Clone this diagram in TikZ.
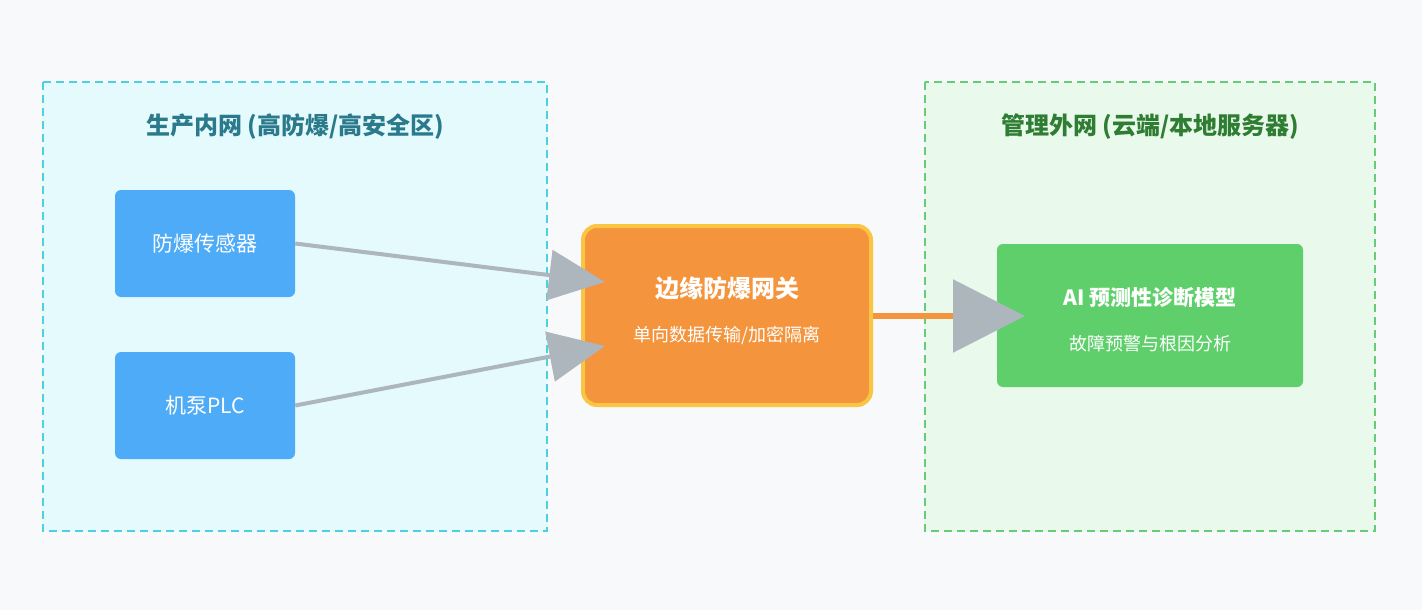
\documentclass[tikz,border=0pt]{standalone}
\usepackage{fontspec}
\setmainfont{Noto Sans CJK SC}
\usepackage{xcolor}
\usetikzlibrary{arrows.meta,positioning}
\definecolor{pageBg}{HTML}{F8F9FB}
\definecolor{innerFill}{HTML}{E4FAFD}
\definecolor{innerLine}{HTML}{4DD0E1}
\definecolor{innerText}{HTML}{2A7A8C}
\definecolor{outerFill}{HTML}{E9FAEC}
\definecolor{outerLine}{HTML}{66CC77}
\definecolor{outerText}{HTML}{2E7D32}
\definecolor{device}{HTML}{4DABF7}
\definecolor{gateway}{HTML}{F4943C}
\definecolor{gatewayRim}{HTML}{F9C543}
\definecolor{model}{HTML}{5FCF6B}
\definecolor{link}{HTML}{ADB5BD}

\begin{document}
\begin{tikzpicture}[
  x=1pt,y=-1pt,
  zone/.style={draw=#1,dashed,dash pattern=on 8pt off 5pt,line width=2.5pt},
  zone title/.style={font=\fontsize{24}{28}\selectfont\bfseries,text=#1},
  device box/.style={fill=device,rounded corners=6pt,minimum width=180pt,minimum height=107pt,
    text=white,font=\fontsize{21}{25}\selectfont},
  flow/.style={line width=4pt,draw=link,-{Triangle[length=56pt,width=50pt,color=link]}}
]
\fill[pageBg] (0,0) rectangle (1422,610);
\useasboundingbox (0,0) rectangle (1422,610);
% zones
\draw[zone=innerLine,fill=innerFill] (43,82) rectangle (547,531);
\draw[zone=outerLine,fill=outerFill] (925,82) rectangle (1375,531);
\node[zone title=innerText] (innerT) at (295,127) {生产内网 (高防爆/高安全区)};
\node[zone title=outerText] (outerT) at (1150,127) {管理外网 (云端/本地服务器)};
% devices
\node[device box] (sensor) at (205,243.5) {防爆传感器};
\node[device box] (plc) at (205,405.5) {机泵PLC};
% gateway
\node[fill=gateway,draw=gatewayRim,line width=4pt,rounded corners=14pt,
  minimum width=288pt,minimum height=179pt] (gw) at (727,315.5) {};
\node[text=white,font=\fontsize{24}{28}\selectfont\bfseries] (gwT) at (727,288) {边缘防爆网关};
\node[text=white,font=\fontsize{18}{22}\selectfont] (gwS) at (727,335) {单向数据传输/加密隔离};
% model
\node[fill=model,rounded corners=6pt,minimum width=306pt,minimum height=143pt] (ai) at (1150,315.5) {};
\node[text=white,font=\fontsize{21}{25}\selectfont\bfseries] (aiT) at (1150,298) {AI 预测性诊断模型};
\node[text=white,font=\fontsize{18}{22}\selectfont] (aiS) at (1150,344) {故障预警与根因分析};
% links
\coordinate (inA) at (605,282);
\coordinate (inB) at (605,346);
\coordinate (inC) at (1025,316);
\draw[flow] (sensor.east) -- (inA);
\draw[flow] (plc.east) -- (inB);
\draw[line width=6pt,draw=gateway,-{Triangle[length=72pt,width=72pt,color=link]}] (gw.east |- inC) -- (inC);
\end{tikzpicture}
\end{document}
